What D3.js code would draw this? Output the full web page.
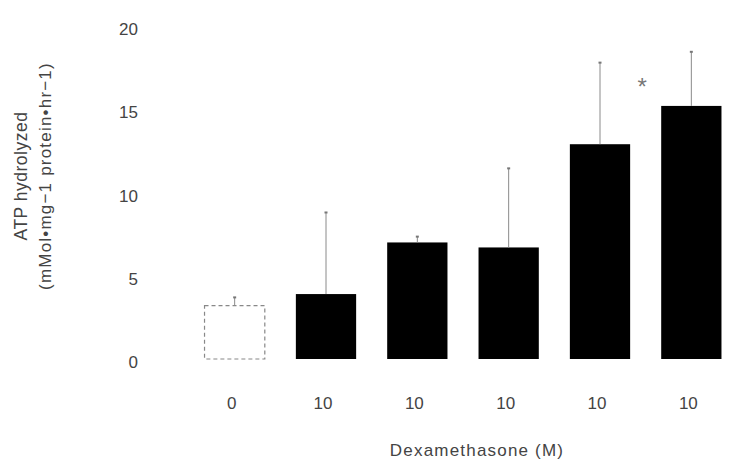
<!DOCTYPE html>
<html><head><meta charset="utf-8">
<script src="https://cdn.jsdelivr.net/npm/d3@7"></script>
<style>
html,body{margin:0;padding:0;background:#fff;}
svg text{font-family:"Liberation Sans",Arial,Helvetica,sans-serif;fill:#444;}
</style></head>
<body><svg id="chart" width="731" height="467"></svg>
<script>
const categories = ["0", "10", "10", "10", "10", "10"];
const means = [3.2, 3.9, 7.0, 6.7, 12.9, 15.2];
const errors = [0.5, 4.9, 0.35, 4.75, 4.9, 3.25];
const yTicks = [0, 5, 10, 15, 20];
const significant = [false, false, false, false, true, false];

const svg = d3.select("#chart");
const idx = categories.map((d, i) => i);

const x = d3.scaleBand().domain(idx).range([189, 737]).paddingInner(0.34).paddingOuter(0.17);
const y = d3.scaleLinear().domain([0, 20]).range([359, 26]);

// y axis (labels only)
const yAxis = d3.axisLeft(y).tickValues(yTicks).tickSize(0).tickPadding(0);
const gy = svg.append("g").attr("transform", "translate(138,0)").call(yAxis);
gy.select(".domain").remove();
gy.selectAll("text").attr("font-size", 17).attr("dy", "0.5em").style("fill", "#444");

// x axis (labels only)
const xAxis = d3.axisBottom(x).tickFormat(i => categories[i]).tickSize(0).tickPadding(0);
const gx = svg.append("g").attr("transform", "translate(0,397)").call(xAxis);
gx.select(".domain").remove();
gx.selectAll("text").attr("font-size", 17).attr("dy", "0.71em").attr("dx", -3).style("fill", "#444");

// bars
svg.append("g").selectAll("rect").data(idx).join("rect")
  .attr("x", i => x(i))
  .attr("y", i => y(means[i]))
  .attr("width", x.bandwidth())
  .attr("height", i => y(0) - y(means[i]))
  .attr("fill", i => i === 0 ? "#fff" : "#000")
  .attr("stroke", i => i === 0 ? "#888" : "none")
  .attr("stroke-width", 1.2)
  .attr("stroke-dasharray", i => i === 0 ? "4,3" : null);

// error bars
const eg = svg.append("g");
eg.selectAll("line.err").data(idx).join("line").attr("class", "err")
  .attr("x1", i => x(i) + x.bandwidth() / 2)
  .attr("x2", i => x(i) + x.bandwidth() / 2)
  .attr("y1", i => y(means[i]))
  .attr("y2", i => y(means[i] + errors[i]))
  .attr("stroke", "#8a8a8a").attr("stroke-width", 1);
eg.selectAll("line.cap").data(idx).join("line").attr("class", "cap")
  .attr("x1", i => x(i) + x.bandwidth() / 2 - 1.5)
  .attr("x2", i => x(i) + x.bandwidth() / 2 + 1.5)
  .attr("y1", i => y(means[i] + errors[i]))
  .attr("y2", i => y(means[i] + errors[i]))
  .attr("stroke", "#777").attr("stroke-width", 2);

// significance marks
svg.append("g").selectAll("text").data(idx.filter(i => significant[i])).join("text")
  .attr("x", i => x(i) + x.bandwidth() + 12)
  .attr("y", i => y(means[i] + errors[i]) + 32)
  .attr("text-anchor", "middle")
  .attr("font-size", 24)
  .style("fill", "#777")
  .text("*");

// axis titles
svg.append("text").attr("x", 477).attr("y", 456).attr("text-anchor", "middle")
  .attr("font-size", 17).attr("letter-spacing", "1.2px").text("Dexamethasone (M)");
const yt = svg.append("text").attr("transform", "translate(0,176) rotate(-90)")
  .attr("text-anchor", "middle").attr("font-size", 17.5);
yt.append("tspan").attr("x", 0).attr("y", 27).attr("letter-spacing", "0.5px").text("ATP hydrolyzed");
yt.append("tspan").attr("x", 0).attr("y", 51).attr("font-size", 17).attr("letter-spacing", "1.2px").text("(mMol\u2022mg\u22121 protein\u2022hr\u22121)");
</script></body></html>
